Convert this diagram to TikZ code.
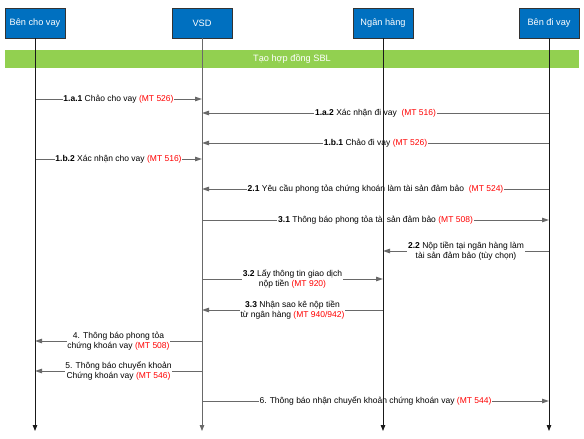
\documentclass[tikz,border=0pt]{standalone}
\usepackage{fontspec}
\setmainfont{Liberation Sans}
\usetikzlibrary{arrows.meta}
\definecolor{boxblue}{RGB}{0,112,192}
\definecolor{bargreen}{RGB}{146,208,80}
\definecolor{linegray}{RGB}{105,105,105}
\definecolor{mtred}{RGB}{255,0,0}
\newcommand{\mt}[1]{\textcolor{mtred}{(MT #1)}}
\tikzset{
  actor/.style={draw=black!80, line width=0.8pt, fill=boxblue, text=white,
    minimum width=60pt, minimum height=30pt, inner sep=0pt,
    font=\fontsize{9.2}{10.5}\selectfont},
  lifeline/.style={line width=0.8pt, draw=black!90,
    -{Triangle[length=6pt,width=4.5pt]}},
  msg/.style={line width=1pt, draw=linegray,
    -{Triangle[length=7pt,width=4.5pt]}, color=linegray},
  lbl/.style={fill=white, text=black, inner sep=0.8pt, align=center,
    font=\fontsize{8.5}{10}\selectfont},
}
\begin{document}
\begin{tikzpicture}[x=1pt,y=-1pt]
\useasboundingbox (0,0) rectangle (584,439);
% actors
\node[actor] (a) at (35,23) {Bên cho vay};
\node[actor] (v) at (202,23) {VSD};
\node[actor] (n) at (383,23) {Ngân hàng};
\node[actor] (b) at (549,23) {Bên đi vay};
% green bar
\node[fill=bargreen, minimum width=574pt, minimum height=18pt, inner sep=0pt,
  text=white, font=\fontsize{9.2}{10.5}\selectfont] (bar) at (292,59) {Tạo hợp đồng SBL};
% lifeline ends
\coordinate (aE) at (35,431);
\coordinate (vE) at (202,431);
\coordinate (nE) at (383,431);
\coordinate (bE) at (549,431);
% messages
\draw[msg] (a |- 0,99) -- node[lbl]{\textbf{1.a.1} Chảo cho vay \mt{526}} (v |- 0,99);
\draw[msg] (b |- 0,113) -- node[lbl]{\textbf{1.a.2} Xác nhận đi vay\ \ \mt{516}} (v |- 0,113);
\draw[msg] (b |- 0,143) -- node[lbl]{\textbf{1.b.1} Chảo đi vay \mt{526}} (v |- 0,143);
\draw[msg] (a |- 0,159) -- node[lbl]{\textbf{1.b.2} Xác nhận cho vay \mt{516}} (v |- 0,159);
\draw[msg] (b |- 0,189) -- node[lbl]{\textbf{2.1} Yêu cầu phong tỏa chứng khoán làm tài sản đảm bảo\ \ \mt{524}} (v |- 0,189);
\draw[msg] (v |- 0,220) -- node[lbl]{\textbf{3.1} Thông báo phong tỏa tài sản đảm bảo \mt{508}} (b |- 0,220);
\draw[msg] (b |- 0,251) -- node[lbl]{\textbf{2.2} Nộp tiền tại ngân hàng làm\\tài sản đảm bảo (tùy chọn)} (n |- 0,251);
\draw[msg] (v |- 0,279) -- node[lbl]{\textbf{3.2} Lấy thông tin giao dịch\\nộp tiền \mt{920}} (n |- 0,279);
\draw[msg] (n |- 0,310) -- node[lbl]{\textbf{3.3} Nhận sao kê nộp tiền\\từ ngân hàng \mt{940/942}} (v |- 0,310);
\draw[msg] (v |- 0,341) -- node[lbl]{4. Thông báo phong tỏa\\chứng khoán vay \mt{508}} (a |- 0,341);
\draw[msg] (v |- 0,371) -- node[lbl]{5. Thông báo chuyển khoản\\Chứng khoán vay \mt{546}} (a |- 0,371);
\draw[msg] (v |- 0,401) -- node[lbl]{6. Thông báo nhận chuyển khoản chứng khoán vay \mt{544}} (b |- 0,401);
% lifelines
\draw[lifeline] (a.south) -- (aE);
\draw[lifeline, draw=linegray] (v.south) -- (vE);
\draw[lifeline] (n.south) -- (nE);
\draw[lifeline] (b.south) -- (bE);
\end{tikzpicture}
\end{document}
